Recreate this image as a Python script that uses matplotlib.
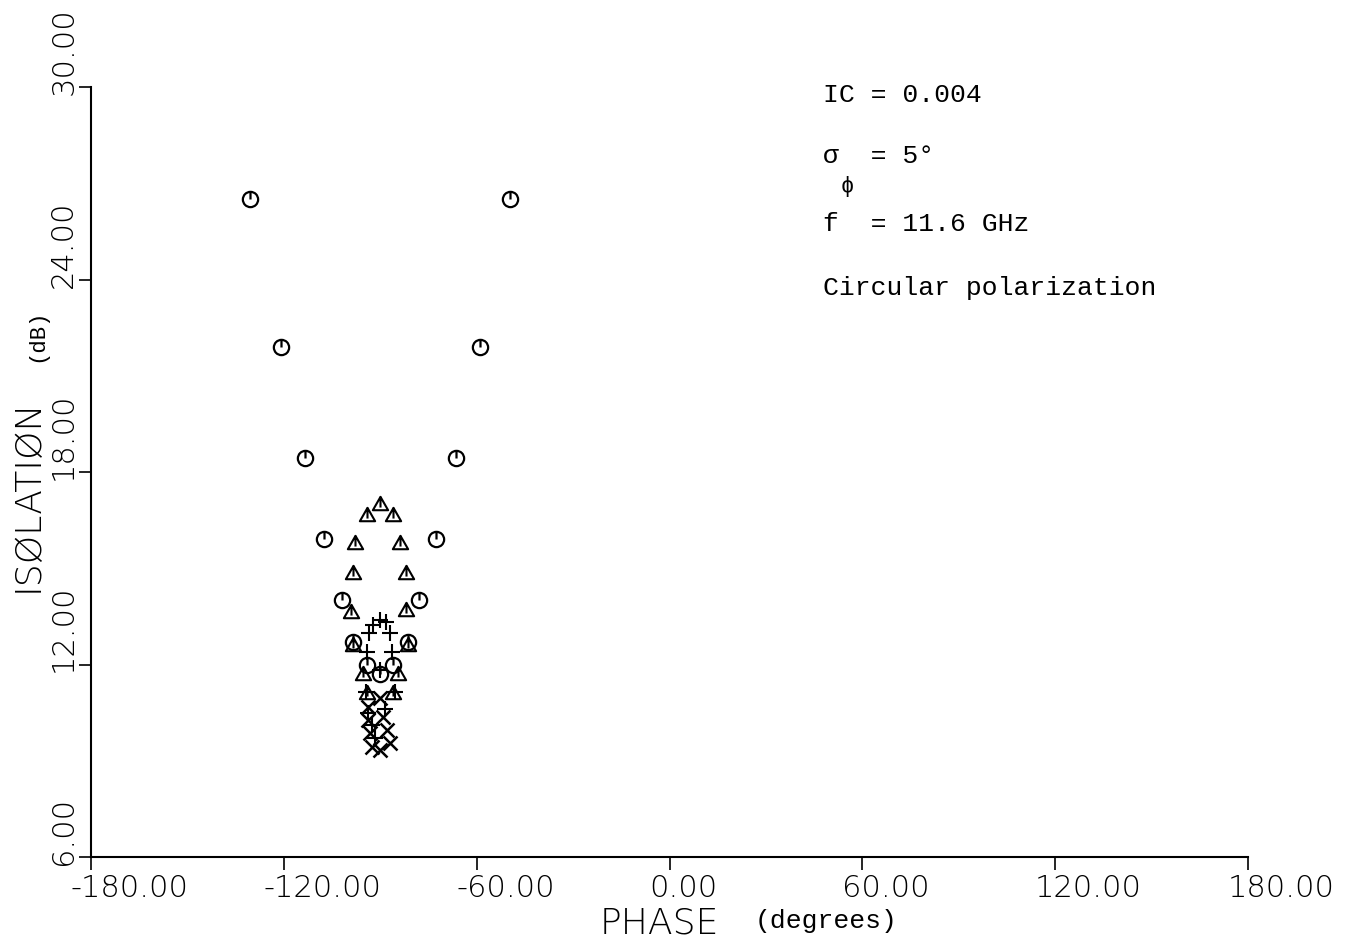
import matplotlib
matplotlib.use("Agg")
import matplotlib.pyplot as plt
import matplotlib.transforms as mtransforms
from matplotlib.path import Path

# 데이터
circle_phase = [-130.5, -49.5, -121.0, -59.0, -113.5, -66.5, -107.5, -72.5,
                -102.0, -78.0, -98.5, -81.5, -94.0, -86.0, -90.0]
circle_iso = [26.5, 26.5, 21.9, 21.9, 18.45, 18.45, 15.9, 15.9,
              14.0, 14.0, 12.7, 12.7, 12.0, 12.0, 11.7]

tri_phase = [-90.0, -94.0, -86.0, -98.0, -84.0, -98.5, -82.0, -99.0, -82.0,
             -98.5, -81.5, -95.5, -84.5, -94.0, -86.0]
tri_iso = [17.0, 16.65, 16.65, 15.8, 15.8, 14.85, 14.85, 13.65, 13.7,
           12.6, 12.6, 11.7, 11.7, 11.1, 11.1]

plus_phase = [-92.3, -90.1, -88.2, -93.5, -87.0, -94.1, -86.3, -90.1,
              -94.5, -85.5, -93.8, -88.5, -92.6, -91.6]
plus_iso = [13.23, 13.39, 13.33, 12.98, 12.98, 12.39, 12.39, 11.83,
            11.15, 11.15, 10.5, 10.6, 10.1, 9.7]

x_phase = [-93.8, -90.1, -93.8, -89.1, -93.2, -87.9, -92.6, -90.1, -87.0]
x_iso = [10.68, 10.96, 10.27, 10.36, 9.87, 9.96, 9.43, 9.34, 9.55]

xticks = [-180, -120, -60, 0, 60, 120, 180]
xtick_labels = ["-180.00", "-120.00", "-60.00", "0.00", "60.00", "120.00", "180.00"]
yticks = [6, 12, 18, 24, 30]
ytick_labels = ["6.00", "12.00", "18.00", "24.00", "30.00"]

W, H = 1352, 940


def px(x, y):
    return x / W, 1 - y / H


# 마커 모양: 원 + 세로선, 삼각형 + 세로선
circ_marker = Path.make_compound_path(Path.unit_circle(), Path([(0, 0), (0, 1)]))
tri_marker = Path.make_compound_path(
    Path([(-1, -0.75), (1, -0.75), (0, 1), (-1, -0.75)], closed=True),
    Path([(0, 1), (0, -0.4)]))

fig = plt.figure(figsize=(W / 100, H / 100), dpi=100)
ax = fig.add_axes([91 / W, 1 - 857 / H, (1248 - 91) / W, (857 - 87) / H])

ax.plot(circle_phase, circle_iso, ls="none", marker=circ_marker, ms=11,
        mfc="none", mec="black", mew=1.6, clip_on=False)
ax.plot(tri_phase, tri_iso, ls="none", marker=tri_marker, ms=11,
        mfc="none", mec="black", mew=1.5, clip_on=False)
ax.plot(plus_phase, plus_iso, ls="none", marker="+", ms=11,
        mec="black", mew=1.5, clip_on=False)
ax.plot(x_phase, x_iso, ls="none", marker="x", ms=10,
        mec="black", mew=1.8, clip_on=False)

ax.set_xlim(-180, 180)
ax.set_ylim(6, 30)
ax.spines["top"].set_visible(False)
ax.spines["right"].set_visible(False)
ax.spines["left"].set_linewidth(1.5)
ax.spines["bottom"].set_linewidth(1.5)

ax.set_xticks(xticks, xtick_labels)
ax.set_yticks(yticks, ytick_labels)
ax.tick_params(axis="both", direction="out", length=9, width=1.2,
               labelsize=22, pad=3.5)

for lab in ax.get_xticklabels():
    lab.set_horizontalalignment("left")
    lab.set_fontweight("light")
    lab.set_transform(lab.get_transform() +
                      mtransforms.ScaledTranslation(-0.20, 0, fig.dpi_scale_trans))

for lab in ax.get_yticklabels():
    lab.set_rotation(90)
    lab.set_horizontalalignment("center")
    lab.set_verticalalignment("bottom")
    lab.set_fontweight("light")
    lab.set_transform(lab.get_transform() +
                      mtransforms.ScaledTranslation(-0.10, -0.08, fig.dpi_scale_trans))

# 축 제목
fig.text(*px(600, 933), "PHASE", fontsize=26, fontweight="light",
         ha="left", va="baseline")
fig.text(*px(755, 928), "(degrees)", fontsize=19, family="Liberation Mono",
         ha="left", va="baseline")
fig.text(*px(45, 592), "ISØLATIØN", fontsize=26, fontweight="light",
         rotation=90, ha="right", va="bottom")
fig.text(*px(47, 362), "(dB)", fontsize=16, family="Liberation Mono",
         rotation=90, ha="right", va="bottom")

# 주석
mono = dict(family="Liberation Mono", fontsize=19, ha="left", va="baseline")
fig.text(*px(823, 102), "IC = 0.004", **mono)
fig.text(*px(823, 163), "σ  = 5°", **mono)
fig.text(*px(841, 192), "ϕ", family="Liberation Mono", fontsize=16,
         ha="left", va="baseline")
fig.text(*px(823, 231), "f  = 11.6 GHz", **mono)
fig.text(*px(823, 295), "Circular polarization", **mono)

fig.savefig("out.png", dpi=100)
